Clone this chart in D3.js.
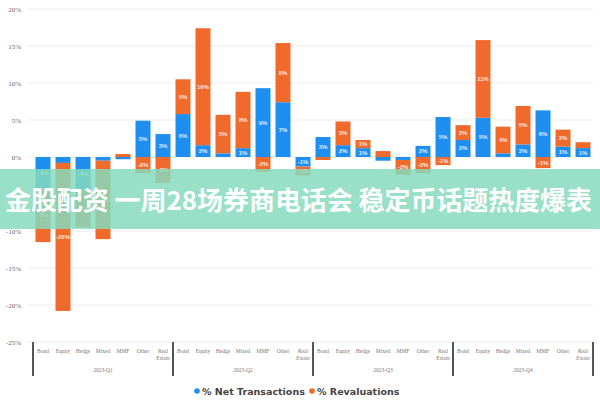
<!DOCTYPE html>
<html><head><meta charset="utf-8">
<script src="https://cdn.jsdelivr.net/npm/d3@7/dist/d3.min.js"></script>
<style>body{margin:0;background:#fff}svg{display:block}</style>
</head><body>
<svg id="c" width="600" height="400"></svg>
<script>
const groups = ["2023-Q1","2023-Q2","2023-Q3","2023-Q4"];
const categories = ["Bond","Equity","Hedge","Mixed","MMF","Other","Real Estate"];
const netTransactions = [
  -4.2, -0.8, -4.5, -0.5, -0.3, 4.9, 3.1,
   5.8,  1.6,  0.5,  1.2,  9.3, 7.4, -1.3,
   2.7,  1.6,  1.2, -0.5, -0.4, 1.5, 5.4,
   2.3,  5.3,  0.5,  1.7,  6.3, 1.4, 1.2];
const revaluations = [
  -7.3, -20.0, -5.0, -10.6, 0.4, -2.2, -3.5,
   4.7,  15.8,  5.2,   7.6, -2.0, 8.0, -1.2,
  -0.4,   3.2,  1.1,   0.8, -2.0, -2.2, -1.1,
   2.0,  10.5,  3.6,   5.2, -1.5, 2.3, 0.8];
const yTicks = [20,15,10,5,0,-5,-10,-15,-20,-25];
const seriesNames = ["% Net Transactions","% Revaluations"];
const colors = ["#1f8ef1","#ef6a2b"];
const bannerText = "金股配资 一周28场券商电话会 稳定币话题热度爆表";

const svg = d3.select("#c");
const left = 33, right = 593;
const rows = [];
groups.forEach((g,gi)=>categories.forEach((c,ci)=>{
  const i = gi*categories.length+ci;
  rows.push({key:g+"|"+c, group:g, cat:c, net:netTransactions[i], rev:revaluations[i]});
}));
const x = d3.scaleBand().domain(rows.map(d=>d.key)).range([left,right]).paddingInner(0.25).paddingOuter(0.125);
const y = d3.scaleLinear().domain([-25,20]).range([342,9]);

// grid
svg.append("g").selectAll("line").data(yTicks).join("line")
  .attr("x1",28).attr("x2",right).attr("y1",d=>y(d)).attr("y2",d=>y(d))
  .attr("stroke","#ececec").attr("stroke-width",1);
// y labels
svg.append("g").selectAll("text").data(yTicks).join("text")
  .attr("x",21).attr("y",d=>y(d)+2.5).attr("text-anchor","end")
  .attr("font-family","Liberation Serif, serif").attr("font-size",7).attr("fill","#666")
  .text(d=>d+"%");

const stack = d3.stack().keys(["net","rev"]).offset(d3.stackOffsetDiverging);
const series = stack(rows);
const gS = svg.append("g").selectAll("g").data(series).join("g").attr("fill",(d,i)=>colors[i]);
gS.selectAll("rect").data(d=>d).join("rect")
  .attr("x",d=>x(d.data.key)).attr("width",x.bandwidth())
  .attr("y",d=>y(Math.max(d[0],d[1]))).attr("height",d=>Math.abs(y(d[0])-y(d[1])));
const lab = svg.append("g").attr("font-family","Liberation Sans, sans-serif").attr("font-size",6)
  .attr("font-weight","bold").attr("fill","#fff").attr("text-anchor","middle").attr("opacity",0.85);
series.forEach(s=>s.forEach(d=>{
  if (Math.abs(y(d[0])-y(d[1])) < 8) return;
  lab.append("text").attr("x",x(d.data.key)+x.bandwidth()/2).attr("y",y((d[0]+d[1])/2)+2)
    .text(Math.round(d.data[s.key])+"%");
}));

// x labels
const xl = svg.append("g").attr("font-family","Liberation Serif, serif").attr("font-size",5.5).attr("fill","#777").attr("text-anchor","middle");
rows.forEach(d=>{
  const cx = x(d.key)+x.bandwidth()/2;
  const parts = d.cat.split(" ");
  parts.forEach((p,pi)=>xl.append("text").attr("x",cx).attr("y",353+pi*6.5).text(p));
});
const gw = (right-left)/groups.length;
groups.forEach((g,gi)=>{
  xl.append("text").attr("x",left+gw*(gi+0.5)).attr("y",372).text(g);
});
svg.append("g").selectAll("line").data(d3.range(groups.length+1)).join("line")
  .attr("x1",d=>left+gw*d).attr("x2",d=>left+gw*d).attr("y1",342).attr("y2",376)
  .attr("stroke","#555").attr("stroke-width",2);

// legend
const lg = svg.append("g").attr("font-family","DejaVu Sans, sans-serif").attr("font-size",9.5).attr("font-weight","bold").attr("fill","#444");
const lx = [197, 312];
seriesNames.forEach((n,i)=>{
  lg.append("circle").attr("cx",lx[i]).attr("cy",391).attr("r",2.8).attr("fill",colors[i]);
  lg.append("text").attr("x",lx[i]+5).attr("y",394.5).text(n);
});

// banner
svg.append("rect").attr("x",0).attr("y",169).attr("width",600).attr("height",60)
  .attr("fill","#86dabd").attr("opacity",0.85);
svg.append("text").attr("x",5).attr("y",210)
  .attr("font-family","Noto Sans CJK SC, sans-serif").attr("font-size",26).attr("font-weight","bold")
  .attr("textLength",587).attr("lengthAdjust","spacingAndGlyphs")
  .attr("fill","#fff").text(bannerText);
</script>
</body></html>
